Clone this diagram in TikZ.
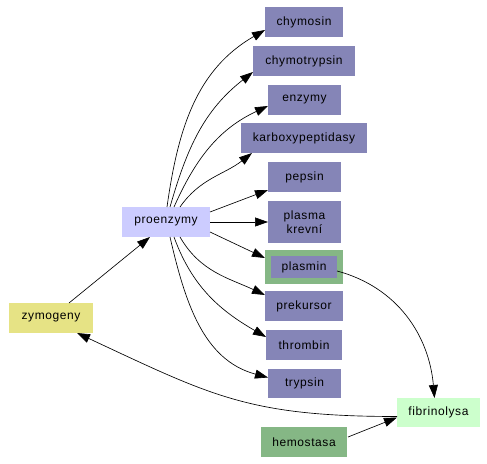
\documentclass[tikz,border=0pt]{standalone}
\usepackage{fontspec}
\setmainfont{Liberation Sans}[LetterSpace=5]
\usetikzlibrary{arrows.meta}
\definecolor{enz}{RGB}{133,133,183}
\definecolor{proenz}{RGB}{204,204,255}
\definecolor{zymo}{RGB}{230,227,133}
\definecolor{fibr}{RGB}{204,255,204}
\definecolor{hemo}{RGB}{133,183,133}
\tikzset{
  box/.style={inner sep=0pt, outer sep=0pt, font=\fontsize{12bp}{14bp}\selectfont, align=center},
  enzbox/.style={box, fill=enz, minimum height=30bp},
  arr/.style={-{Triangle[length=13bp,width=9bp]}, line width=0.65bp, black},
}
\begin{document}
\begin{tikzpicture}[x=1bp,y=1bp]
\useasboundingbox (0,0) rectangle (487,464);
% nodes
\node[enzbox, minimum width=78bp] (chymosin) at (304,442) {chymosin};
\node[enzbox, minimum width=102bp] (chymotrypsin) at (304,403) {chymotrypsin};
\node[enzbox, minimum width=73bp] (enzymy) at (304.5,364) {enzymy};
\node[enzbox, minimum width=126bp] (karbox) at (304,326) {karboxypeptidasy};
\node[enzbox, minimum width=73bp] (pepsin) at (304.5,287) {pepsin};
\node[enzbox, minimum width=73bp, minimum height=42bp] (plasma) at (304.5,242) {plasma\\krevní};
\node[box, fill=hemo, minimum width=78bp, minimum height=34bp] (plasminout) at (304,197) {};
\node[box, fill=enz, minimum width=66bp, minimum height=22bp] (plasmin) at (304,197) {plasmin};
\node[enzbox, minimum width=78bp] (prekursor) at (304,158) {prekursor};
\node[enzbox, minimum width=76bp] (thrombin) at (304,119) {thrombin};
\node[enzbox, minimum width=73bp, minimum height=29bp] (trypsin) at (304.5,80.5) {trypsin};
\node[box, fill=proenz, minimum width=88bp, minimum height=30bp] (proenzymy) at (166,242) {proenzymy};
\node[box, fill=zymo, minimum width=84bp, minimum height=30bp] (zymogeny) at (51,146) {zymogeny};
\node[box, fill=fibr, minimum width=83bp, minimum height=29bp] (fibrinolysa) at (438.5,51.5) {fibrinolysa};
\node[box, fill=hemo, minimum width=86bp, minimum height=30bp] (hemostasa) at (304,22) {hemostasa};
% connectors from proenzymy
\draw[arr] ([xshift=1bp]proenzymy.north) to[out=82,in=-150] ([yshift=-8bp]chymosin.west);
\draw[arr] ([xshift=4bp]proenzymy.north) to[out=74,in=-142] ([yshift=-11bp]chymotrypsin.west);
\draw[arr] ([xshift=8bp]proenzymy.north) to[out=66,in=-155] ([yshift=-6bp]enzymy.west);
\draw[arr] ([xshift=14bp]proenzymy.north) to[out=55,in=-142] ([xshift=11bp]karbox.south west);
\draw[arr] ([yshift=-5bp]proenzymy.north east) -- ([yshift=-13bp]pepsin.west);
\draw[arr] (proenzymy.east) -- (plasma.west);
\draw[arr] ([yshift=5bp]proenzymy.south east) -- ([yshift=9bp]plasminout.west);
\draw[arr] ([xshift=14bp]proenzymy.south) to[out=-60,in=155] ([yshift=11bp]prekursor.west);
\draw[arr] ([xshift=8bp]proenzymy.south) to[out=-70,in=150] ([yshift=8bp]thrombin.west);
\draw[arr] ([xshift=4bp]proenzymy.south) to[out=-77,in=165] ([yshift=6bp]trypsin.west);
% other connectors
\draw[arr] ([yshift=-4bp]plasmin.east) to[out=-15,in=95] ([xshift=-4bp]fibrinolysa.north);
\draw[arr] ([yshift=-4bp]fibrinolysa.west) to[out=180,in=-25,looseness=1.15] ([xshift=26bp]zymogeny.south);
\draw[arr] ([xshift=18bp]zymogeny.north) -- ([xshift=-16bp]proenzymy.south);
\draw[arr] ([xshift=1bp,yshift=5bp]hemostasa.east) -- ([yshift=-5bp]fibrinolysa.west);
\end{tikzpicture}
\end{document}
